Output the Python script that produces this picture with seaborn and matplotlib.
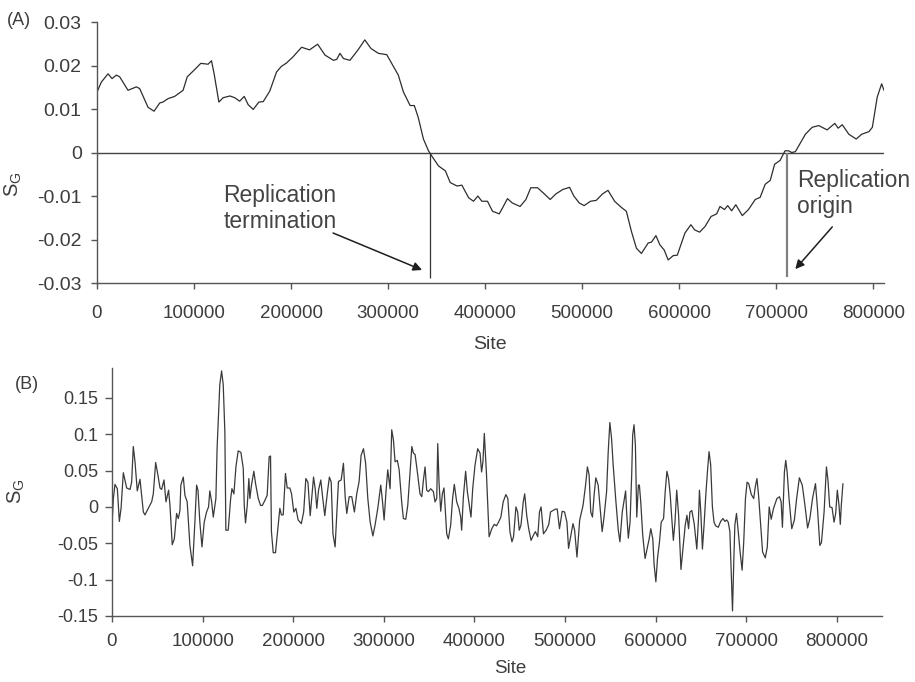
import matplotlib
matplotlib.use("Agg")
import matplotlib.pyplot as plt
import seaborn as sns
import numpy as np
import pandas as pd

# ---------------- data (panel A) ----------------
site_a_k = [0, 4.5, 11.4, 15.5, 20, 23.4, 32, 40.6, 44, 52.6,
            58.8, 64.7, 68, 73.3, 80, 88.7, 93, 100.8, 107, 114.5,
            118, 120.7, 125.6, 130, 137, 142, 147, 151.7, 155.8, 161,
            166.8, 171.3, 178, 185, 190, 195.4, 202, 210.9, 219, 227.4,
            235, 243.6, 247, 250.4, 254, 260.7, 269, 276, 282.4, 290,
            298.6, 303.7, 310.5, 315.8, 322.7, 327, 331, 336.4, 341.6, 345,
            352, 359, 364, 371, 376, 383, 388, 392.5, 396.6, 402.4,
            407.6, 414.5, 418, 423, 428, 436, 442, 447, 454, 460,
            467, 473, 480, 487, 491.4, 497, 502, 508.6, 514.5, 521,
            526.6, 533.4, 540.3, 545.5, 550.7, 555.9, 561, 568, 571.4, 576,
            580, 584.5, 588.6, 593.8, 598, 602.4, 605.9, 612, 616, 621,
            626.6, 632.8, 638.6, 642, 646.6, 650, 654, 658.3, 665, 671.4,
            678.3, 683.4, 688.6, 693.8, 698.3, 704, 709, 712.6, 716, 719.7,
            730, 737, 743.8, 752.4, 760.3, 763.8, 768, 774.8, 782.4, 788,
            795.5, 799, 804, 808.6, 811]
sg_a_milli = [13.9, 16.2, 18.1, 17.0, 17.8, 17.4, 14.3, 15.1, 14.7, 10.4,
              9.5, 11.4, 11.6, 12.4, 12.9, 14.3, 17.4, 19.1, 20.5, 20.3,
              21.1, 18.1, 11.6, 12.6, 13.0, 12.6, 11.8, 12.9, 11.0, 9.9,
              11.6, 11.7, 14.1, 18.5, 19.8, 20.6, 22.0, 24.2, 23.6, 24.9,
              22.4, 21.2, 21.4, 22.8, 21.6, 21.2, 23.6, 25.9, 23.9, 22.8,
              22.5, 20.5, 17.8, 13.9, 10.8, 10.8, 8.1, 3.1, 0.4, -0.8,
              -3.1, -4.2, -6.9, -7.7, -7.5, -10.4, -11.2, -10.0, -11.2, -11.2,
              -13.5, -14.1, -12.7, -10.6, -11.6, -12.4, -10.8, -8.1, -8.1, -9.3,
              -10.8, -9.5, -8.5, -8.0, -10.0, -11.6, -12.2, -11.2, -11.0, -9.5,
              -8.7, -11.2, -12.6, -13.5, -18.1, -22.0, -23.2, -20.8, -20.6, -19.1,
              -21.2, -22.4, -24.7, -23.7, -23.6, -20.8, -18.5, -16.6, -17.8, -18.3,
              -17.0, -14.7, -14.1, -12.4, -13.1, -12.2, -13.4, -12.0, -14.5, -13.1,
              -10.8, -10.3, -7.3, -6.4, -2.7, -1.8, 0.4, 0.4, 0.0, 0.2,
              4.2, 5.8, 6.2, 5.2, 6.7, 5.6, 6.4, 4.2, 3.1, 4.2,
              4.8, 5.8, 12.7, 15.8, 14.3]

# ---------------- data (panel B) ----------------
site_b_k = [0, 1.5, 3.3, 5.9, 8.1, 10, 12.5, 14.3, 16.2, 19.9,
            21.7, 23.5, 25.4, 27.9, 30.9, 32.7, 34.6, 36.4, 40, 43.8,
            45.6, 48.2, 50.4, 53, 54.8, 57.4, 59.6, 62.5, 64, 66.5,
            68.8, 71.3, 73.2, 75, 76, 78.7, 80.5, 83, 86, 89,
            91.5, 93.4, 94.9, 97, 99.3, 101.8, 104.4, 106.6, 108, 110,
            111.8, 114.7, 116, 119, 121, 122.8, 124.6, 125.7, 128.3, 131,
            132.4, 134.6, 136.8, 139.3, 142.3, 144.9, 146, 147.4, 149.3, 151.1,
            152.2, 154, 156.6, 158.5, 161.4, 164, 166, 168.8, 171.3, 173.5,
            175, 176, 178, 180.5, 182.4, 185.3, 187, 189, 191.5, 193.4,
            196.3, 198.2, 200.7, 203, 205.5, 209, 211.6, 214, 216.3, 218.8,
            222.5, 224.3, 226.1, 228, 230.5, 232.7, 234.9, 237.9, 240, 242,
            243.9, 246.3, 248.2, 250, 253, 255.5, 257.4, 259.2, 261.8, 264.7,
            267.6, 270.2, 272.8, 275, 277.6, 280, 282.4, 285, 288, 290.4,
            293.4, 296.7, 298.5, 300.4, 302.6, 304.4, 307, 308.8, 310.7, 312.5,
            315, 317, 319.9, 321.7, 324.3, 326.5, 329, 331, 332.7, 334.6,
            337.5, 340, 342, 343.8, 345.6, 347.4, 349.3, 351.8, 354.8, 356.6,
            358.5, 359.6, 361, 362.9, 364.7, 366.5, 369.5, 371.3, 373.9, 376,
            377.9, 380.5, 383, 384.9, 386, 387.9, 390.4, 392.3, 394.5, 396.3,
            398.2, 400.7, 403.7, 406.3, 408, 409.5, 411, 413.3, 416.3, 419.3,
            421.9, 424.4, 426.7, 429.3, 431.9, 434.8, 437, 439.3, 441.5, 443.3,
            445.9, 447.8, 449.6, 451.5, 454, 455.6, 457.8, 460, 462.6, 465.2,
            467.4, 470, 471.9, 473.7, 476.3, 479.3, 482.2, 484.1, 486.7, 489.6,
            491.5, 494, 497, 499.6, 502.2, 504, 505.9, 508.9, 510.7, 513.3,
            516.3, 520, 523, 524.8, 526.7, 528.5, 530.4, 532.2, 534.1, 536.7,
            539.3, 541.1, 543, 546, 547.8, 549.6, 551.5, 553.3, 556.3, 558.9,
            560.7, 563.3, 565.6, 567, 568.1, 570, 571.9, 573.7, 574.8, 576.3,
            577.8, 579.3, 581.1, 582.2, 583.7, 585.9, 588.5, 591.1, 593, 594.8,
            597, 598.5, 600.4, 602.2, 604.4, 606.3, 608.9, 610.7, 612.6, 614.4,
            616.3, 617.2, 619.7, 621.5, 623.4, 625.5, 628.1, 630.7, 632.8, 634.7,
            636.5, 638, 640.1, 642.7, 645.6, 647.4, 648.5, 650, 651.8, 653.6,
            655.5, 657.3, 659.1, 660.9, 662.8, 664.6, 666.4, 669.3, 671.9, 674.5,
            676.6, 678.5, 680.3, 682.1, 683.6, 685, 686.5, 687.6, 689.4, 691.2,
            693.4, 695.6, 697.4, 699.3, 701.1, 702.9, 705.8, 708.4, 710.2, 712,
            713.9, 716.1, 718.2, 721.2, 723.4, 725.5, 727.7, 730.3, 734, 736.9,
            738.7, 740.1, 742.3, 743.8, 745.3, 747.4, 750.4, 753.3, 755.8, 758.8,
            762, 765, 767.9, 770.4, 773.4, 776.6, 778.8, 781.4, 783.2, 786.1,
            788.7, 790.5, 792.3, 794.9, 797.1, 798.9, 800.7, 802.6, 804, 805.1,
            806.9]
sg_b_milli = [-25, 11.5, 31, 25, -20, -2, 47, 37, 26, 24,
              34, 83, 62, 22, 38, 16, -7, -11, -2, 7,
              18, 61, 46, 26, 24, 37, 7, 23, 2, -52,
              -44, -9, -16, -5, 30, 41, 16, 7, -53, -81,
              -21, 30, 23, -21, -55, -21, -7, 0, 22, 7,
              -14, 11.5, 80, 168, 187, 168, 103, -32, -32, 11.5,
              25, 18, 55, 77, 75, 53, 2, -22, 2, 39,
              11.5, 30, 49, 32, 12, 2, 2, 9, 16, 69,
              70, -34, -63, -63, -39, -2, -11, -11, 46, 26,
              26, 18, -7, -2, -18, -23, -7, 39, 34, -12,
              41, 25, -2, 23, 37, 11.5, -12, 21, 41, 34,
              -37, -55, -9, 35, 37, 60, 14, -9, 14, 14,
              -7, 18, 35, 71, 80, 60, 11.5, -21, -40, -25,
              -2, 30, 9, -18, 23, 51, 25, 106, 92, 62,
              64, 51, 5, -16, -17, 2, 48, 83, 74, 72,
              44, 18, 14, 37, 55, 23, 21, 25, 21, 7,
              11.5, 87, 34, -6, 18, 26, -37, -44, -25, 11.5,
              31, 7, -2, -14, -32, 14, 49, 21, 2, -14,
              25, 57, 80, 74, 48, 62, 101, 48, -41, -30,
              -24, -26, -21, -14, 7, 17, 11.5, -34, -48, -41,
              0, -7, -32, -25, 7, 18, -11.5, -30, -46, -39,
              -34, -41, -7, 0, -37, -32, -24, -7, -5, -3,
              -3, -30, -6, -7, -21, -57, -44, -23, -32, -69,
              -18, 2, 32, 55, 44, -7, -14, 16, 40, 30,
              -7, -34, -16, 21, 76, 116, 94, 57, 7, -32,
              -48, -7, 11.5, 22, -7, -43, -21, 44, 99, 113,
              85, -14, 30, 30, 7, -39, -71, -55, -44, -30,
              -44, -80, -103, -71, -48, -21, -16, 21, 49, 39,
              16, -2, -46, -21, 23, -11.5, -86, -53, -25, -11.5,
              -30, -7, -5, -23, -58, -18, 23, -7, -58, -25,
              16, 48, 76, 58, 0, -21, -26, -28, -20, -16,
              -20, -18, -21, -34, -90, -143, -71, -25, -9, -32,
              -62, -87, -48, 11.5, 34, 32, 17, 11.5, 28, 39,
              14, -25, -62, -70, -55, 0, -17, -2, 11.5, 14,
              7, -28, 48, 64, 48, 11.5, -30, -18, 11.5, 40,
              30, 2, -29, -16, 12, 32, -2, -53, -49, -7,
              55, 35, 0, -1, -21, -9, 23, 2, -24, 2,
              32]

ticks_a_x = [0, 100000, 200000, 300000, 400000, 500000, 600000, 700000, 800000]
ticks_a_y = [-0.03, -0.02, -0.01, 0, 0.01, 0.02, 0.03]
ticks_b_x = [0, 100000, 200000, 300000, 400000, 500000, 600000, 700000, 800000]
ticks_b_y = [-0.15, -0.1, -0.05, 0, 0.05, 0.1, 0.15]

termination_site = 343300
origin_site = 711300

df_a = pd.DataFrame({"Site": np.array(site_a_k) * 1000,
                     "SG": np.array(sg_a_milli) / 1000})
df_b = pd.DataFrame({"Site": np.array(site_b_k) * 1000,
                     "SG": np.array(sg_b_milli) / 1000})

# ---------------- style ----------------
sns.set_style("ticks")
plt.rcParams["font.family"] = ["Liberation Sans", "DejaVu Sans"]
plt.rcParams["axes.unicode_minus"] = False
plt.rcParams["mathtext.fontset"] = "custom"
plt.rcParams["mathtext.rm"] = "Liberation Sans"
plt.rcParams["mathtext.it"] = "Liberation Sans"

TXT = "#3d3d3d"
AX = "#555555"
LINE = "#2e2e2e"

fig = plt.figure(figsize=(9.15, 6.82), dpi=100)
ax1 = fig.add_axes([0.1060, 0.5850, 0.8601, 0.3827])
ax2 = fig.add_axes([0.1224, 0.0968, 0.8415, 0.3636])

# ---------------- panel A ----------------
sns.lineplot(data=df_a, x="Site", y="SG", ax=ax1, color=LINE, linewidth=0.9,
             estimator=None, sort=False)
ax1.axhline(0, color="#444444", linewidth=1.0, zorder=1)
ax1.vlines(termination_site, -0.0289, 0, color="#333333", linewidth=0.9)
ax1.vlines(origin_site, -0.0286, 0, color="#808080", linewidth=1.6)
ax1.set_xlim(0, 811000)
ax1.set_ylim(-0.03, 0.03)
ax1.set_xticks(ticks_a_x)
ax1.set_xticklabels([f"{t:d}" for t in ticks_a_x])
ax1.set_yticks(ticks_a_y)
ax1.set_yticklabels([f"{t:g}" for t in ticks_a_y])
ax1.tick_params(axis="x", direction="out", length=4, width=1, color=AX,
                pad=11.5, labelsize=13.5, labelcolor=TXT)
ax1.tick_params(axis="y", direction="out", length=4, width=1, color=AX,
                pad=7, labelsize=14, labelcolor=TXT)
ax1.set_xlabel("Site", fontsize=14, color=TXT)
ax1.xaxis.set_label_coords(0.4994, -0.203)
ax1.set_ylabel(r"S$_\mathregular{G}$", fontsize=14.5, color=TXT)
ax1.yaxis.set_label_coords(-0.093, 0.379)

ax1.text(130000, -0.0128, "Replication\ntermination", ha="left", va="center",
         fontsize=16.5, color="#444444", linespacing=1.15)
ax1.annotate("", xy=(335000, -0.0270), xytext=(243300, -0.0185),
             arrowprops=dict(arrowstyle="-|>", color="#1e1e1e", lw=1.1,
                             mutation_scale=13, shrinkA=0, shrinkB=0))
ax1.text(721600, -0.0094, "Replication\norigin", ha="left", va="center",
         fontsize=16.5, color="#444444", linespacing=1.15, clip_on=False)
ax1.annotate("", xy=(719600, -0.0268), xytext=(757700, -0.0171),
             arrowprops=dict(arrowstyle="-|>", color="#1e1e1e", lw=1.1,
                             mutation_scale=13, shrinkA=0, shrinkB=0))

# ---------------- panel B ----------------
sns.lineplot(data=df_b, x="Site", y="SG", ax=ax2, color="#3a3a3a", linewidth=0.9,
             estimator=None, sort=False)
ax2.set_xlim(0, 850000)
ax2.set_ylim(-0.15, 0.191)
ax2.set_xticks(ticks_b_x)
ax2.set_xticklabels([f"{t:d}" for t in ticks_b_x])
ax2.set_yticks(ticks_b_y)
ax2.set_yticklabels([f"{t:g}" for t in ticks_b_y])
ax2.tick_params(axis="x", direction="out", length=4, width=1, color=AX,
                pad=8, labelsize=13.5, labelcolor=TXT)
ax2.tick_params(axis="y", direction="out", length=5, width=1, color=AX,
                pad=5, labelsize=13, labelcolor=TXT)
ax2.set_xlabel("Site", fontsize=13.5, color=TXT)
ax2.xaxis.set_label_coords(0.517, -0.178)
ax2.set_ylabel(r"S$_\mathregular{G}$", fontsize=14.5, color=TXT)
ax2.yaxis.set_label_coords(-0.110, 0.504)

for ax in (ax1, ax2):
    sns.despine(ax=ax)
    for s in ("left", "bottom"):
        ax.spines[s].set_color(AX)
        ax.spines[s].set_linewidth(1.0)

fig.text(0.008, 0.970, "(A)", fontsize=13, color=TXT, va="center", ha="left")
fig.text(0.016, 0.436, "(B)", fontsize=13, color=TXT, va="center", ha="left")

fig.savefig("out.png", dpi=100)
